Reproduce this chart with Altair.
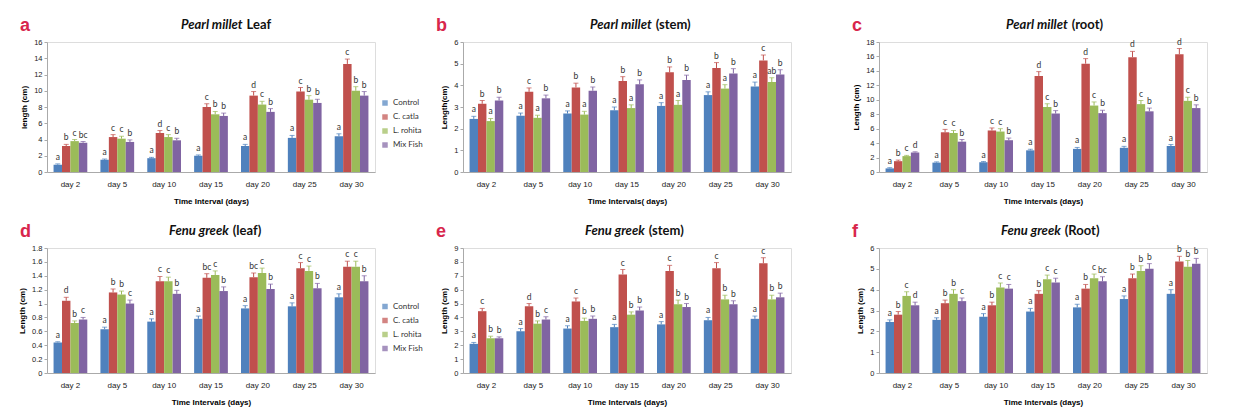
import altair as alt
import pandas as pd

DAYS = ["day 2", "day 5", "day 10", "day 15", "day 20", "day 25", "day 30"]
SERIES = ["Control", "C. catla", "L. rohita", "Mix Fish"]
COLORS = ["#4F81BD", "#C0504D", "#9BBB59", "#8064A2"]

# Each list of lists: one inner list per series (Control, C. catla, L. rohita, Mix Fish), 7 days
A_MEAN = [[0.9, 1.5, 1.7, 2.0, 3.2, 4.2, 4.4],
          [3.2, 4.3, 4.8, 8.0, 9.4, 9.9, 13.3],
          [3.8, 4.1, 4.3, 7.1, 8.3, 8.9, 10.0],
          [3.6, 3.7, 3.9, 6.9, 7.4, 8.5, 9.4]]
A_ERR = [[0.1, 0.1, 0.1, 0.1, 0.2, 0.3, 0.3],
         [0.2, 0.3, 0.3, 0.4, 0.5, 0.5, 0.6],
         [0.2, 0.3, 0.3, 0.35, 0.4, 0.5, 0.5],
         [0.15, 0.25, 0.25, 0.35, 0.4, 0.45, 0.5]]
A_LET = [["a"] * 7,
         ["b", "c", "d", "c", "d", "c", "c"],
         ["c", "c", "c", "b", "c", "b", "b"],
         ["bc", "b", "b", "b", "b", "b", "b"]]

B_MEAN = [[2.45, 2.6, 2.7, 2.85, 3.05, 3.55, 3.95],
          [3.15, 3.7, 3.9, 4.2, 4.6, 4.8, 5.15],
          [2.35, 2.5, 2.65, 2.95, 3.1, 3.85, 4.15],
          [3.3, 3.4, 3.75, 4.05, 4.25, 4.55, 4.5]]
B_ERR = [[0.12, 0.12, 0.12, 0.15, 0.15, 0.15, 0.2],
         [0.15, 0.18, 0.2, 0.2, 0.25, 0.25, 0.25],
         [0.12, 0.12, 0.15, 0.15, 0.2, 0.18, 0.2],
         [0.15, 0.15, 0.17, 0.2, 0.22, 0.22, 0.22]]
B_LET = [["a"] * 7,
         ["b", "c", "b", "b", "b", "b", "c"],
         ["a", "a", "a", "a", "a", "a", "ab"],
         ["b"] * 7]

C_MEAN = [[0.5, 1.3, 1.35, 3.0, 3.2, 3.35, 3.6],
          [1.5, 5.5, 5.75, 13.3, 15.0, 15.9, 16.3],
          [2.2, 5.4, 5.6, 9.0, 9.2, 9.4, 9.85],
          [2.7, 4.2, 4.4, 8.1, 8.15, 8.4, 8.85]]
C_ERR = [[0.1, 0.1, 0.1, 0.15, 0.2, 0.2, 0.2],
         [0.15, 0.4, 0.35, 0.6, 0.7, 0.8, 0.8],
         [0.1, 0.35, 0.4, 0.45, 0.5, 0.5, 0.5],
         [0.1, 0.3, 0.3, 0.4, 0.4, 0.45, 0.45]]
C_LET = [["a"] * 7,
         ["b", "c", "c", "d", "d", "d", "d"],
         ["c"] * 7,
         ["d", "b", "b", "b", "b", "b", "b"]]

D_MEAN = [[0.44, 0.63, 0.74, 0.78, 0.93, 0.96, 1.09],
          [1.04, 1.16, 1.32, 1.37, 1.38, 1.51, 1.53],
          [0.72, 1.13, 1.32, 1.41, 1.44, 1.47, 1.53],
          [0.77, 1.0, 1.14, 1.18, 1.21, 1.22, 1.32]]
D_ERR = [[0.01, 0.03, 0.04, 0.04, 0.04, 0.05, 0.05],
         [0.05, 0.05, 0.07, 0.06, 0.06, 0.08, 0.08],
         [0.03, 0.05, 0.06, 0.06, 0.07, 0.07, 0.08],
         [0.03, 0.05, 0.05, 0.06, 0.07, 0.07, 0.08]]
D_LET = [["a"] * 7,
         ["d", "b", "c", "bc", "bc", "c", "c"],
         ["b", "b", "c", "c", "c", "c", "c"],
         ["c", "c", "b", "b", "b", "b", "b"]]

E_MEAN = [[2.1, 3.0, 3.2, 3.3, 3.5, 3.8, 3.9],
          [4.45, 4.8, 5.15, 7.1, 7.35, 7.55, 7.9],
          [2.5, 3.55, 3.75, 4.2, 4.95, 5.3, 5.3],
          [2.5, 3.85, 3.9, 4.5, 4.75, 4.95, 5.45]]
E_ERR = [[0.1, 0.2, 0.2, 0.2, 0.2, 0.2, 0.2],
         [0.2, 0.2, 0.25, 0.35, 0.4, 0.4, 0.4],
         [0.15, 0.2, 0.2, 0.2, 0.3, 0.3, 0.3],
         [0.1, 0.2, 0.2, 0.25, 0.25, 0.25, 0.3]]
E_LET = [["a"] * 7,
         ["c", "d", "c", "c", "c", "c", "c"],
         ["b"] * 7,
         ["b", "c", "b", "b", "b", "b", "b"]]

F_MEAN = [[2.45, 2.55, 2.7, 2.95, 3.15, 3.55, 3.8],
          [2.8, 3.35, 3.25, 3.8, 4.05, 4.55, 5.35],
          [3.7, 3.8, 4.1, 4.5, 4.55, 4.9, 5.1],
          [3.25, 3.45, 4.05, 4.35, 4.4, 5.0, 5.25]]
F_ERR = [[0.1, 0.1, 0.15, 0.15, 0.15, 0.15, 0.2],
         [0.15, 0.15, 0.15, 0.15, 0.2, 0.2, 0.25],
         [0.2, 0.2, 0.22, 0.2, 0.2, 0.25, 0.3],
         [0.15, 0.15, 0.2, 0.2, 0.22, 0.25, 0.25]]
F_LET = [["a"] * 7,
         ["b"] * 7,
         ["c", "b", "c", "c", "c", "b", "b"],
         ["d", "c", "c", "c", "bc", "b", "b"]]

W = 328
FONT = "Lato"


def panel(tag, t_it, t_rest, mean, err, lets, ymax, ystep, ytitle, xtitle, H):
    rows = []
    for si, s in enumerate(SERIES):
        for di, d in enumerate(DAYS):
            rows.append(dict(day=d, series=s, value=mean[si][di], err=err[si][di],
                             top=mean[si][di] + err[si][di], lab=lets[si][di]))
    df = pd.DataFrame(rows)
    n = int(round(ymax / ystep))
    ticks = [round(i * ystep, 4) for i in range(n + 1)]

    x = alt.X("day:N", sort=DAYS, title=xtitle,
              scale=alt.Scale(paddingInner=0.28, paddingOuter=0.14),
              axis=alt.Axis(labelAngle=0, ticks=False, labelFontSize=8, titleFontSize=8,
                            titleFontWeight="bold", domainColor="#aaa", labelColor="#222",
                            titlePadding=9, labelPadding=8))
    xo = alt.XOffset("series:N", sort=SERIES, scale=alt.Scale(paddingInner=0, paddingOuter=0))
    yscale = alt.Scale(domain=[0, ymax], nice=False)
    yaxis = alt.Axis(values=ticks, format="~g", title=ytitle, grid=False, labelOverlap=False,
                     labelFontSize=7.5, titleFontSize=8, titleFontWeight="bold",
                     domainColor="#aaa", tickColor="#aaa", tickSize=3,
                     labelColor="#222", titlePadding=5)
    cscale = alt.Scale(domain=SERIES, range=COLORS)
    color = alt.Color("series:N", sort=SERIES, scale=cscale,
                      legend=alt.Legend(title=None, orient="none", legendX=W + 6, legendY=H / 2 - 8,
                                        symbolType="square", symbolSize=30, labelFontSize=8,
                                        rowPadding=6, symbolStrokeWidth=0, labelColor="#333",
                                        labelFont=FONT))
    base = alt.Chart(df)
    bars = base.mark_bar().encode(x=x, xOffset=xo, y=alt.Y("value:Q", scale=yscale, axis=yaxis), color=color)
    rules = base.mark_rule(strokeWidth=1).encode(
        x=x, xOffset=xo,
        y=alt.Y("value:Q", scale=yscale, axis=yaxis), y2="top:Q",
        color=color)
    caps = base.mark_tick(thickness=1, size=5, orient="horizontal").encode(
        x=x, xOffset=xo,
        y=alt.Y("top:Q", scale=yscale, axis=yaxis),
        color=color)
    labels = base.mark_text(dy=-7, fontSize=8.5, color="#333", font=FONT).encode(
        x=x, xOffset=xo,
        y=alt.Y("top:Q", scale=yscale, axis=yaxis), text="lab:N")

    one = pd.DataFrame({"k": [0]})
    fs = 13
    w_it = 0.53 * fs * len(t_it)
    w_rest = 0.53 * fs * len(t_rest)
    total = w_it + 4 + w_rest
    right_it = W / 2 - total / 2 + w_it + 6
    title_it = alt.Chart(one).mark_text(align="right", baseline="middle", fontSize=fs, fontStyle="italic",
                                        fontWeight="bold", font=FONT, color="#111").encode(
        x=alt.value(right_it), y=alt.value(-17), text=alt.value(t_it))
    title_rest = alt.Chart(one).mark_text(align="left", baseline="middle", fontSize=fs,
                                          fontWeight="bold", font=FONT, color="#111").encode(
        x=alt.value(right_it + 4), y=alt.value(-17), text=alt.value(t_rest))
    letter = alt.Chart(one).mark_text(align="left", baseline="middle", fontSize=18, fontWeight="bold",
                                      font="Liberation Sans", color="#D8264C").encode(
        x=alt.value(-27), y=alt.value(-16), text=alt.value(tag))

    return alt.layer(bars, rules, caps, labels, title_it, title_rest, letter).properties(width=W, height=H)


pa = panel("a", "Pearl millet", "Leaf", A_MEAN, A_ERR, A_LET, 16, 2, "length (cm)", "Time Interval (days)", 130)
pb = panel("b", "Pearl millet", "(stem)", B_MEAN, B_ERR, B_LET, 6, 1, "Length(cm)", "Time Intervals( days)", 130)
pc = panel("c", "Pearl millet", "(root)", C_MEAN, C_ERR, C_LET, 18, 2, "Length (cm)", "Time Intervals (days)", 130)
pd_ = panel("d", "Fenu greek", "(leaf)", D_MEAN, D_ERR, D_LET, 1.8, 0.2, "Length (cm)", "Time Intervals (days)", 125)
pe = panel("e", "Fenu greek", "(stem)", E_MEAN, E_ERR, E_LET, 9, 1, "Length (cm)", "Time Intervals (days)", 125)
pf = panel("f", "Fenu greek", "(Root)", F_MEAN, F_ERR, F_LET, 6, 1, "Length (cm)", "Time Intervals (days)", 125)

top = alt.hconcat(pa, pb, pc, spacing=59)
bottom = alt.hconcat(pd_, pe, pf, spacing=59)
chart = alt.vconcat(top, bottom, spacing=16).resolve_legend(color="independent").resolve_scale(
    color="independent").properties(padding={"left": 10, "top": 8, "right": 0, "bottom": 0}).configure_view(
    strokeWidth=0).configure_axis(labelFont=FONT, titleFont=FONT).configure_axisY(
    labelOverlap=False).configure(background="white")

chart.save("out.html", embed_options={"renderer": "svg", "actions": False})
